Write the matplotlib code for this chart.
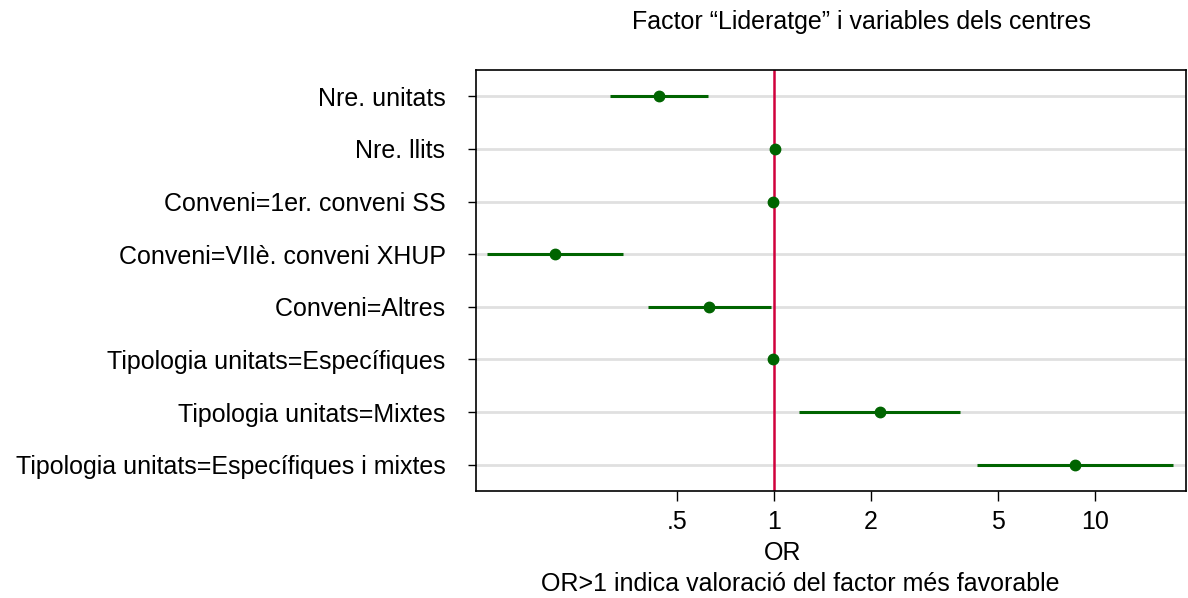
import matplotlib
matplotlib.use("Agg")
import matplotlib.pyplot as plt
import numpy as np

plt.rcParams['font.family'] = ['Liberation Sans', 'DejaVu Sans']

labels = ["Nre. unitats", "Nre. llits", "Conveni=1er. conveni SS",
          "Conveni=VIIè. conveni XHUP", "Conveni=Altres",
          "Tipologia unitats=Específiques", "Tipologia unitats=Mixtes",
          "Tipologia unitats=Específiques i mixtes"]
odds = [0.438, 1.005, 0.995, 0.208, 0.626, 0.995, 2.14, 8.66]
ci_low = [0.308, 1.0, 0.99, 0.128, 0.406, 0.99, 1.20, 4.28]
ci_high = [0.623, 1.01, 1.0, 0.338, 0.976, 1.0, 3.79, 17.5]
xticks = [0.5, 1, 2, 5, 10]
xticklabels = [".5", "1", "2", "5", "10"]

FS = 18

fig = plt.figure(figsize=(11.88, 5.98), dpi=100)
ax = fig.add_axes([476/1188, 107/598, (1186-476)/1188, (491-70)/598])

ypos = np.arange(1, len(labels) + 1)
green = "#006400"
for y in ypos:
    ax.axhline(y, color="#e0e0e0", lw=2, zorder=1)
ax.axvline(1, color="#d0003c", lw=1.8, zorder=2)
ax.hlines(ypos, ci_low, ci_high, color=green, lw=2.2, zorder=3)
ax.plot(odds, ypos, 'o', color=green, ms=7.5, zorder=4)

ax.set_xscale('log')
ax.set_xlim(0.118, 19.2)
ax.set_ylim(8.5, 0.5)
ax.set_xticks(xticks)
ax.set_xticklabels(xticklabels)
ax.xaxis.set_minor_locator(matplotlib.ticker.NullLocator())
ax.set_yticks(ypos)
ax.set_yticklabels([l + " " for l in labels])
ax.tick_params(axis='y', length=6, width=1, pad=11, labelsize=FS)
ax.tick_params(axis='x', length=7, width=1, pad=7, labelsize=FS)
for s in ax.spines.values():
    s.set_linewidth(1.2)

fig.text(783/1188, 1 - 553/598, "OR", ha='center', va='center', fontsize=FS)
fig.text(800/1188, 1 - 584/598, "OR>1 indica valoració del factor més favorable",
         ha='center', va='center', fontsize=FS)
fig.text(862/1188, 1 - 22/598, "Factor \u201cLideratge\u201d i variables dels centres",
         ha='center', va='center', fontsize=FS)

fig.savefig("out.png", dpi=100)
